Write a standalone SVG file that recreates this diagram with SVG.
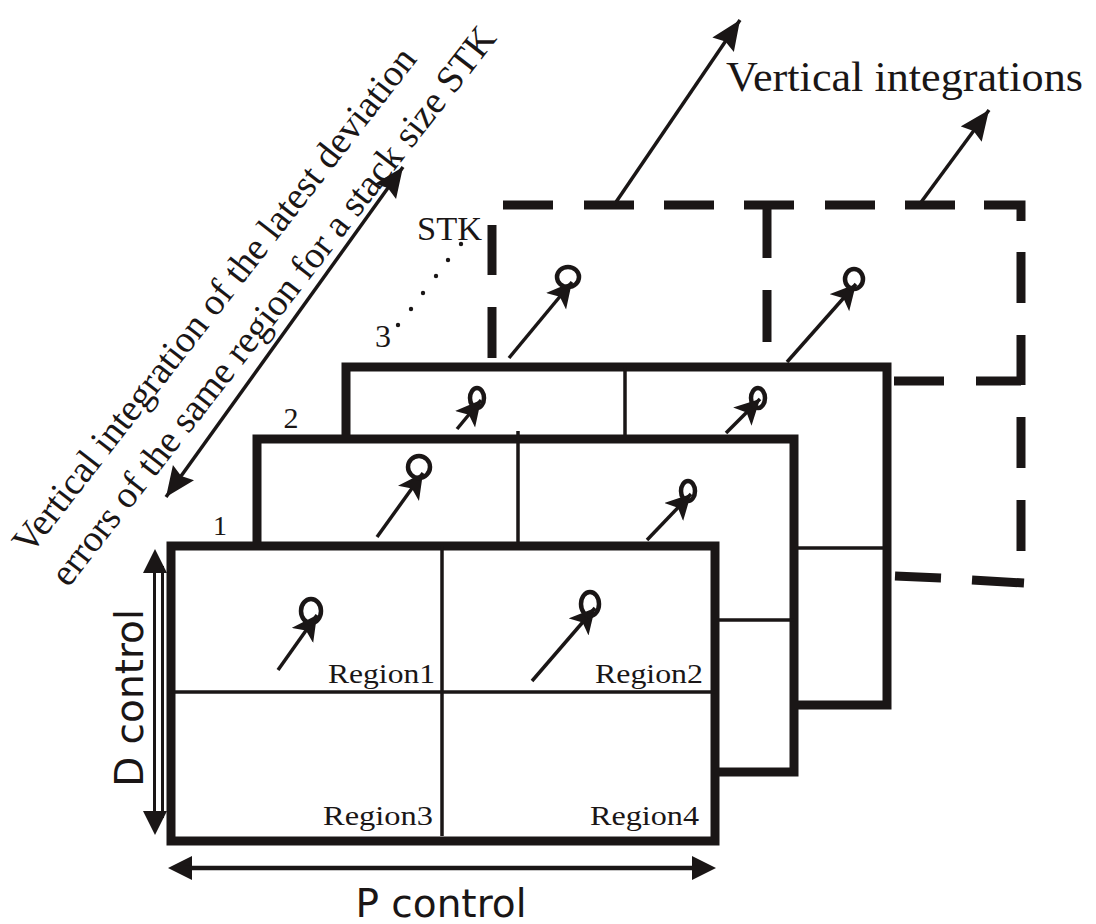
<svg xmlns="http://www.w3.org/2000/svg" width="1096" height="924" viewBox="0 0 1096 924">
<style>
.frame{fill:#fff;stroke:#1a1616;stroke-width:9;stroke-linejoin:miter}
.div{stroke:#1a1616;stroke-width:3.5;fill:none}
.dash{stroke:#1a1616;stroke-width:9;fill:none;stroke-linecap:butt}
.arr{stroke:#1a1616;stroke-width:3.5;fill:none;marker-end:url(#hs)}
.big{stroke:#1a1616;stroke-width:3.5;fill:none;marker-end:url(#hl)}
.circ{fill:none;stroke:#1a1616;stroke-width:4.5}
.serif{font-family:"Liberation Serif","Times New Roman",serif;fill:#1a1616}
.sans{font-family:"DejaVu Sans","Liberation Sans",sans-serif;fill:#1a1616}
</style>
<defs>
<marker id="hs" markerUnits="userSpaceOnUse" markerWidth="28" markerHeight="28" refX="25" refY="13" orient="auto">
<path d="M0,0 L25,13 L0,26 L6,13 z" fill="#1a1616"/>
</marker>
<marker id="hl" markerUnits="userSpaceOnUse" markerWidth="32" markerHeight="28" refX="30" refY="13" orient="auto-start-reverse">
<path d="M0,0 L30,13 L0,26 L4,13 z" fill="#1a1616"/>
</marker>
</defs>
<rect width="1096" height="924" fill="#fff"/>

<g id="diagonal-label">
<g transform="translate(30,556) rotate(-52)">
<text class="serif" x="0" y="0" font-size="38">Vertical integration of the latest deviation</text>
<text class="serif" x="-2" y="50" font-size="38">errors of the same region for a stack size STK</text>
</g>
</g>

<g id="vertical-integrations-label">
<text class="serif" x="726" y="91" font-size="42" textLength="357" lengthAdjust="spacingAndGlyphs">Vertical integrations</text>
</g>

<g id="frame-stk">
<line class="dash" x1="503" y1="205" x2="553" y2="205"/>
<line class="dash" x1="584" y1="205" x2="634" y2="205"/>
<line class="dash" x1="664" y1="205" x2="714" y2="205"/>
<line class="dash" x1="744" y1="205" x2="794" y2="205"/>
<line class="dash" x1="825" y1="205" x2="875" y2="205"/>
<line class="dash" x1="905" y1="205" x2="955" y2="205"/>
<polyline class="dash" points="984,205 1021,205 1021,221"/>
<line class="dash" x1="767" y1="205" x2="767" y2="258"/>
<line class="dash" x1="767" y1="290" x2="767" y2="342"/>
<line class="dash" x1="1021" y1="252" x2="1021" y2="303"/>
<line class="dash" x1="1021" y1="335" x2="1021" y2="385"/>
<line class="dash" x1="1021" y1="417" x2="1021" y2="468"/>
<line class="dash" x1="1021" y1="500" x2="1021" y2="551"/>
<line class="dash" x1="894" y1="381" x2="944" y2="381"/>
<line class="dash" x1="976" y1="381" x2="1021" y2="381"/>
<line class="dash" x1="492" y1="225" x2="492" y2="275"/>
<line class="dash" x1="492" y1="307" x2="492" y2="358"/>
<line class="dash" x1="895" y1="576" x2="941" y2="578"/>
<line class="dash" x1="972" y1="580" x2="1024" y2="583"/>
<text class="serif" x="417" y="240" font-size="33" textLength="65" lengthAdjust="spacingAndGlyphs">STK</text>
<g fill="#1a1616">
<circle cx="398" cy="325" r="2.2"/><circle cx="411" cy="309" r="2.2"/><circle cx="423" cy="293" r="2.2"/>
<circle cx="436" cy="276" r="2.2"/><circle cx="448" cy="260" r="2.2"/><circle cx="461" cy="244" r="2.2"/>
</g>
<line class="arr" x1="509" y1="358" x2="572" y2="282"/>
<ellipse class="circ" cx="568" cy="277" rx="11" ry="10"/>
<line class="arr" x1="787" y1="362" x2="856" y2="284"/>
<ellipse class="circ" cx="854" cy="279" rx="9" ry="10"/>
</g>

<g id="frame-3">
<rect class="frame" x="346" y="367" width="541" height="338"/>
<line class="div" x1="625" y1="367" x2="625" y2="705"/>
<line class="div" x1="346" y1="548" x2="887" y2="548"/>
<text class="serif" x="383" y="347" font-size="32" text-anchor="middle">3</text>
<line class="arr" x1="457" y1="429" x2="481" y2="400"/>
<ellipse class="circ" cx="477" cy="398" rx="7" ry="10"/>
<line class="arr" x1="726" y1="433" x2="760" y2="399"/>
<ellipse class="circ" cx="758" cy="398" rx="7" ry="10"/>
</g>

<g id="frame-2">
<rect class="frame" x="257" y="439" width="537" height="333"/>
<line class="div" x1="518" y1="431" x2="518" y2="772"/>
<line class="div" x1="257" y1="620" x2="794" y2="620"/>
<text class="serif" x="291" y="428" font-size="30" text-anchor="middle">2</text>
<line class="arr" x1="377" y1="537" x2="423" y2="473"/>
<ellipse class="circ" cx="419" cy="467" rx="11" ry="11"/>
<line class="arr" x1="647" y1="540" x2="691" y2="494"/>
<ellipse class="circ" cx="688" cy="491" rx="7" ry="10"/>
</g>

<g id="frame-1">
<rect class="frame" x="171" y="546" width="544" height="295"/>
<line class="div" x1="442" y1="546" x2="442" y2="836"/>
<line class="div" x1="171" y1="692" x2="715" y2="692"/>
<text class="serif" x="220" y="535" font-size="28" text-anchor="middle">1</text>
<line class="arr" x1="278" y1="670" x2="317" y2="615"/>
<ellipse class="circ" cx="311" cy="611" rx="10" ry="12"/>
<line class="arr" x1="532" y1="681" x2="595" y2="608"/>
<ellipse class="circ" cx="590" cy="604" rx="9" ry="12"/>
<text class="serif" x="328" y="683" font-size="28" textLength="107" lengthAdjust="spacingAndGlyphs">Region1</text>
<text class="serif" x="595" y="683" font-size="28" textLength="108" lengthAdjust="spacingAndGlyphs">Region2</text>
<text class="serif" x="323" y="825" font-size="28" textLength="110" lengthAdjust="spacingAndGlyphs">Region3</text>
<text class="serif" x="590" y="825" font-size="28" textLength="109" lengthAdjust="spacingAndGlyphs">Region4</text>
</g>

<g id="connectors">
<line class="big" x1="614" y1="205" x2="740" y2="20"/>
<line class="big" x1="919" y1="205" x2="989" y2="110"/>
<line stroke="#1a1616" stroke-width="3.5" x1="166" y1="497" x2="403" y2="167" marker-start="url(#hl)" marker-end="url(#hl)"/>
<line stroke="#1a1616" stroke-width="3" x1="154.5" y1="566" x2="154.5" y2="818"/>
<line stroke="#1a1616" stroke-width="3" x1="162.5" y1="566" x2="162.5" y2="818"/>
<path d="M155,549 L143,573 L167,573 z M155,835 L143,811 L167,811 z" fill="#1a1616"/>
<path d="M168,868 L192,856 L192,880 z M716,868 L692,856 L692,880 z" fill="#1a1616"/>
<line stroke="#1a1616" stroke-width="4.5" x1="185" y1="868" x2="700" y2="868"/>
</g>

<g id="axis-labels">
<text class="sans" transform="translate(143,698) rotate(-90)" font-size="39" text-anchor="middle">D control</text>
<text class="sans" x="441" y="917" font-size="39" text-anchor="middle">P control</text>
</g>
</svg>
